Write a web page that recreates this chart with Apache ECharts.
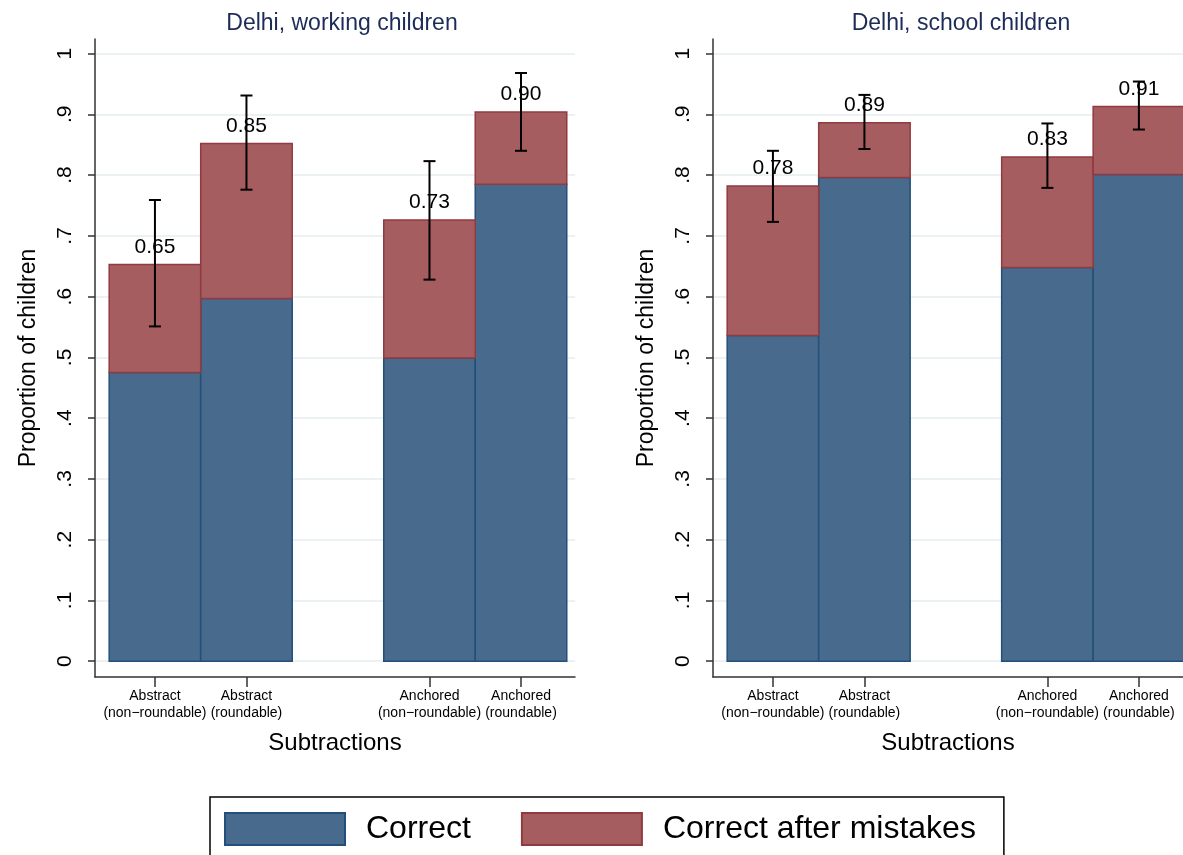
<!DOCTYPE html>
<html>
<head>
<meta charset="utf-8">
<script src="https://cdn.jsdelivr.net/npm/echarts@6/dist/echarts.min.js"></script>
<style>
  html, body { margin: 0; padding: 0; background: #fff; }
  #chart { width: 1183px; height: 855px; }
</style>
</head>
<body>
<div id="chart"></div>
<script>
// categories and where they sit on the x axis (gap between the two groups)
var categories = ['Abstract\n(non\u2212roundable)', 'Abstract\n(roundable)', 'Anchored\n(non\u2212roundable)', 'Anchored\n(roundable)']
var catPositions = [1, 2, 4, 5]
var panelTitles = ['Delhi, working children', 'Delhi, school children']
var yTicks = [0, 0.1, 0.2, 0.3, 0.4, 0.5, 0.6, 0.7, 0.8, 0.9, 1]

// Delhi, working children
var workCorrect = [0.475, 0.597, 0.499, 0.785]
var workTotal = [0.653, 0.852, 0.726, 0.904]
var workCiLow = [0.551, 0.776, 0.628, 0.840]
var workCiHigh = [0.759, 0.931, 0.823, 0.968]

// Delhi, school children
var schoolCorrect = [0.536, 0.796, 0.648, 0.801]
var schoolTotal = [0.782, 0.886, 0.830, 0.913]
var schoolCiLow = [0.723, 0.843, 0.779, 0.875]
var schoolCiHigh = [0.840, 0.932, 0.885, 0.954]

var FONT = 'Liberation Sans, Arial, sans-serif'
var BLUE = '#486a8c', BLUE_EDGE = '#23507a'
var RED = '#a65d60', RED_EDGE = '#913a40'

var chart = echarts.init(document.getElementById('chart'))

function barRender(fill, stroke, withLabel) {
  return function (params, api) {
    var x = api.value(0), lo = api.value(1), hi = api.value(2)
    var p0 = api.coord([x - 0.5, lo])
    var p1 = api.coord([x + 0.5, hi])
    var children = [{
      type: 'rect',
      shape: { x: p0[0], y: p1[1], width: p1[0] - p0[0], height: p0[1] - p1[1] },
      style: { fill: fill, stroke: stroke, lineWidth: 1.5 }
    }]
    if (withLabel) {
      children.push({
        type: 'text',
        style: {
          x: (p0[0] + p1[0]) / 2, y: p1[1] - 7,
          text: hi.toFixed(2), fill: '#000',
          font: '21px ' + FONT, align: 'center', verticalAlign: 'bottom'
        }
      })
    }
    return { type: 'group', children: children }
  }
}

function errRender(params, api) {
  var x = api.value(0)
  var top = api.coord([x, api.value(2)])
  var bot = api.coord([x, api.value(1)])
  var cap = 6
  var st = { stroke: '#000', lineWidth: 2 }
  return {
    type: 'group',
    children: [
      { type: 'line', shape: { x1: top[0], y1: top[1], x2: bot[0], y2: bot[1] }, style: st },
      { type: 'line', shape: { x1: top[0] - cap, y1: top[1], x2: top[0] + cap, y2: top[1] }, style: st },
      { type: 'line', shape: { x1: bot[0] - cap, y1: bot[1], x2: bot[0] + cap, y2: bot[1] }, style: st }
    ]
  }
}

function panelSeries(idx, correct, total, lo, hi) {
  return [
    {
      name: 'Correct', type: 'custom', xAxisIndex: idx, yAxisIndex: idx,
      itemStyle: { color: BLUE, borderColor: BLUE_EDGE },
      renderItem: barRender(BLUE, BLUE_EDGE, false),
      encode: { x: 0, y: [1, 2] },
      data: catPositions.map(function (p, i) { return [p, 0, correct[i]] })
    },
    {
      name: 'Correct after mistakes', type: 'custom', xAxisIndex: idx, yAxisIndex: idx,
      itemStyle: { color: RED, borderColor: RED_EDGE },
      renderItem: barRender(RED, RED_EDGE, true),
      encode: { x: 0, y: [1, 2] },
      data: catPositions.map(function (p, i) { return [p, correct[i], total[i]] })
    },
    {
      name: 'ci', type: 'custom', xAxisIndex: idx, yAxisIndex: idx, z: 5,
      renderItem: errRender,
      encode: { x: 0, y: [1, 2] },
      data: catPositions.map(function (p, i) { return [p, lo[i], hi[i]] })
    }
  ]
}

// right panel is cut by the picture edge, so its axis stops earlier
function xAxisFor(idx, max) {
  return {
    type: 'value', gridIndex: idx, min: 0.345, max: max,
    name: 'Subtractions', nameLocation: 'middle', nameGap: 54,
    nameTextStyle: { fontFamily: FONT, fontSize: 24, color: '#000' },
    axisLine: { show: true, onZero: false, lineStyle: { color: '#333', width: 1.5 } },
    axisTick: { show: true, length: 10, customValues: catPositions, lineStyle: { color: '#333', width: 1.5 } },
    axisLabel: {
      customValues: catPositions, margin: 11,
      fontFamily: FONT, fontSize: 14, lineHeight: 17, color: '#000',
      formatter: function (v) { return categories[catPositions.indexOf(v)] || '' }
    },
    splitLine: { show: false }
  }
}

function yAxisFor(idx) {
  return {
    type: 'value', gridIndex: idx, min: -0.026, max: 1.024,
    name: 'Proportion of children', nameLocation: 'middle', nameGap: 55,
    nameTextStyle: { fontFamily: FONT, fontSize: 23, color: '#000' },
    axisLine: { show: true, lineStyle: { color: '#333', width: 1.5 } },
    axisTick: { show: true, length: 7, customValues: yTicks, lineStyle: { color: '#333', width: 1.5 } },
    axisLabel: {
      customValues: yTicks, rotate: 90, margin: 19,
      fontFamily: FONT, fontSize: 21, color: '#000',
      formatter: function (v) {
        if (v === 0) return '0'
        if (v === 1) return '1'
        return '.' + Math.round(v * 10)
      }
    },
    splitLine: { show: true, customValues: yTicks, lineStyle: { color: '#e6eef0', width: 1.5 } }
  }
}

var titleStyle = { fontFamily: FONT, fontSize: 23, fontWeight: 'normal', color: '#1c2b57' }

var option = {
  backgroundColor: '#fff',
  animation: false,
  title: [
    { text: panelTitles[0], left: 337, top: 7, textAlign: 'center', textStyle: titleStyle },
    { text: panelTitles[1], left: 956, top: 7, textAlign: 'center', textStyle: titleStyle }
  ],
  legend: {
    left: 210, top: 797,
    itemWidth: 120, itemHeight: 32, itemGap: 50,
    padding: [15, 28, 15, 14],
    borderColor: '#000', borderWidth: 1.5,
    textStyle: { fontFamily: FONT, fontSize: 32, color: '#000', padding: [0, 0, 0, 16] },
    data: [
      { name: 'Correct', icon: 'rect', itemStyle: { color: BLUE, borderColor: BLUE_EDGE, borderWidth: 2 } },
      { name: 'Correct after mistakes', icon: 'rect', itemStyle: { color: RED, borderColor: RED_EDGE, borderWidth: 2 } }
    ]
  },
  grid: [
    { left: 95, top: 39, width: 480, height: 638 },
    { left: 713, top: 39, width: 470, height: 638 }
  ],
  xAxis: [xAxisFor(0, 5.59), xAxisFor(1, 5.482)],
  yAxis: [yAxisFor(0), yAxisFor(1)],
  series: [].concat(
    panelSeries(0, workCorrect, workTotal, workCiLow, workCiHigh),
    panelSeries(1, schoolCorrect, schoolTotal, schoolCiLow, schoolCiHigh)
  )
}

chart.setOption(option)
window.onresize = chart.resize
</script>
</body>
</html>
